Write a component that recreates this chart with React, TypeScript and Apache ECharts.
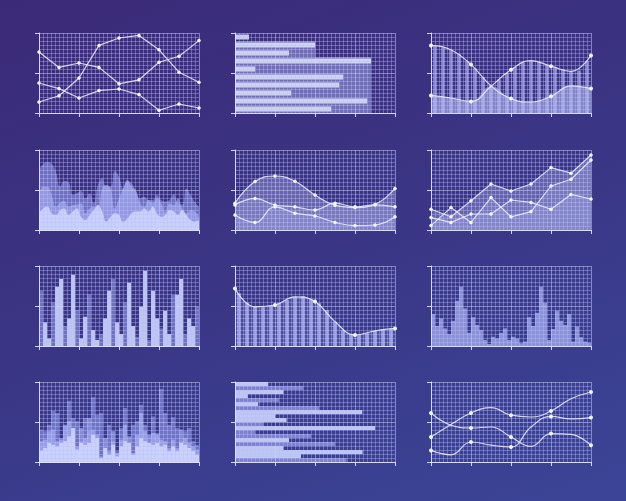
import React, { useEffect, useRef } from "react";
import * as echarts from "echarts";

// ---------- layout ----------
const COL_LEFT = [39, 235, 431];
const ROW_TOP = [33, 150, 266, 382];
const PANEL_W = 160;
const PANEL_H = 80;

// ---------- axis scale ----------
const X_MAX = 40;
const Y_MAX = 20;
const MAJOR_STEP = 10;
const MINOR_SPLIT = 10;

// ---------- categories ----------
const cat9 = ["0", "5", "10", "15", "20", "25", "30", "35", "40"];
const cat10 = ["r1", "r2", "r3", "r4", "r5", "r6", "r7", "r8", "r9", "r10"];
const cat20 = Array.from({ length: 20 }, (_, i) => `c${i + 1}`);
const cat39 = Array.from({ length: 39 }, (_, i) => `p${i + 1}`);
const cat40 = Array.from({ length: 40 }, (_, i) => `b${i + 1}`);

// ---------- data ----------
// panel 1: three polylines
const p1A = [2.75, 4.3, 8.75, 16.9, 18.75, 19.4, 15.8, 10.2, 7.7];
const p1B = [15.25, 11.4, 12.5, 11.4, 7.3, 8.3, 12.7, 14.2, 18.1];
const p1C = [7.5, 6.1, 3.75, 5.6, 6, 4.6, 0.7, 2.25, 1.25];

// panel 2: horizontal bars
const p2Bright = [3.5, 20, 13.5, 34, 5, 27, 26, 14, 33, 24];
const p2Shade = ["-", 20, 20, 34, 34, 34, 34, 34, 34, 34];

// panel 3: stripes + two curves
const p3Stripes = [16.8, 16.4, 15.8, 14.7, 13.0, 11.2, 9.0, 7.0, 8.4, 10.0, 11.5, 12.6, 13.1, 12.9, 12.1, 11.5, 11.0, 10.4, 10.6, 13.0];
const p3P = [16.9, 15.8, 12.1, 6.8, 3.6, 2.75, 4.2, 6.8, 6.1];
const p3Q = [4.4, 3.75, 2.9, 6.7, 10.8, 13.1, 11.7, 10.4, 14.4];
const p3Low = [4.4, 3.75, 2.9, 6.7, 3.6, 2.75, 4.2, 6.8, 6.1];

// panel 4: layered smooth areas
const p4Back = [15, 16.5, 17, 16.5, 14.6, 10.8, 12.25, 12, 8.75, 9.2, 9.75, 7.9, 9.2, 6.7, 11.25, 12.9, 10.8, 10.8, 14.75, 13.3, 10.4, 12.1, 11.7, 9.6, 7.9, 8.3, 7.5, 7.5, 8.75, 7.5, 7.1, 7.5, 8.9, 6.7, 6.4, 10.4, 8.75, 7, 5.8];
const p4Mid = [8.75, 10.8, 10.8, 8.75, 5.8, 6.9, 7.25, 5.8, 6.25, 6.4, 6.7, 4.2, 5.4, 5.8, 4.6, 10.4, 11.25, 10.4, 5.4, 7.9, 10.4, 12.5, 10.8, 10, 6.7, 5.8, 7.5, 6.7, 7.9, 6.7, 4.6, 6.7, 6.25, 7.9, 5.4, 4.2, 5, 4.6, 3.3];
const p4Front = [4.2, 5.4, 5.8, 4.2, 3.75, 5, 5.4, 3.75, 4.6, 5.4, 3.3, 2.5, 3.75, 5, 6.25, 4.6, 2.1, 3.3, 4.2, 3.75, 2.1, 2.9, 4.2, 4.6, 4.6, 5.4, 4.6, 5.8, 4.2, 3.3, 3.75, 5, 4.6, 3.75, 5, 3.75, 2.5, 2.1, 2.5];

// panel 5: smooth waves with fills
const p5A = [6.7, 12.1, 13.5, 12.2, 8.75, 6.2, 5.6, 6.4, 10.4];
const p5B = [6.25, 7.9, 6.25, 5.8, 5.0, 6.7, 5.8, 6.3, 5.8];
const p5C = [3.75, 1.9, 5.8, 4.2, 3.5, 1.9, 1.1, 1.25, 3.3];

// panel 6: jagged rising areas
const p6A = [5.2, 3.3, 7.3, 11.5, 9.75, 11.5, 15.6, 14.2, 18.75];
const p6B = [1.1, 5.6, 1.9, 8.1, 3.3, 4.6, 11, 12.7, 17.5];
const p6C = [3.1, 1.9, 4, 4, 7.5, 6.9, 5.2, 8.9, 7.75];

// panel 7: bars, two tones
const p7Shade = [13.8, "-", "-", 10.9, "-", "-", 5, "-", "-", 9, "-", "-", 12.9, "-", "-", 3, "-", "-", 16.75, "-", "-", 10.9, "-", "-", 2.3, "-", "-", 1.5, "-", "-", 4.4, "-", "-", 12.8, "-", "-", 3, "-", "-", 9.8];
const p7Bright = ["-", 5.9, 1.9, "-", 14.8, 16.75, "-", 6.9, 17.8, "-", 1.9, 7.3, "-", 4, 1.5, "-", 6.9, 13.8, "-", 5.9, 3, "-", 15.8, 5, "-", 9.8, 18.8, "-", 13.8, 6.9, "-", 8.8, 3, "-", 12.8, 16.75, "-", 6.9, 5, "-"];

// panel 8: stripes + smooth curve
const p8Stripes = [13.2, 10.8, 9.8, 9.7, 10.1, 10.7, 11.5, 12.3, 12.5, 11.7, 10.7, 9, 6.1, 4, 3, 2.75, 3.2, 3.8, 4.25, 4.4];
const p8Line = [14.4, 9.8, 10.25, 12.3, 11.1, 6.1, 2.75, 3.8, 4.4];

// panel 9: histogram
const p9Bars = [8, 5, 6.9, 4.4, 3, 6.3, 11.3, 14.8, 9.4, 3.3, 7.2, 5.25, 4, 1.5, 0.5, 2.3, 1.9, 3.3, 4.4, 1.5, 2.3, 1.9, 0.7, 1.1, 7.2, 5, 8.3, 14.8, 10.8, 1.5, 4.25, 8.8, 6.3, 5.25, 8, 1.1, 4.9, 2.2, 1.1, 0.8];

// panel 10: layered bars
const p10Back = [8.1, 7.7, 9.3, 12.8, 12.25, 6, 8.9, 15.3, 11, 10.2, 5.2, 11, 7.7, 16.2, 11.8, 12.25, 2.25, 9.3, 5.2, 2.7, 8.5, 13.5, 2.25, 9.3, 10.2, 14.3, 9.3, 3.9, 11.4, 7.25, 18.3, 12.25, 9.3, 11.2, 8.5, 5.2, 7.7, 8.5, 5.2, 4.3];
const p10Mid = [5.2, 5.6, 7.7, 8.1, 5.2, 5.6, 9.3, 10.2, 7.25, 3.9, 8.5, 6, 11, 8.1, 6.8, 1.4, 6, 2.7, 7.7, 2.25, 5.6, 9.3, 6.4, 2.25, 6.8, 12.25, 7.7, 6.8, 7.25, 6.8, 5.6, 5.2, 3.5, 5.6, 3.5, 8.1, 6, 4.75, 3.9, 3.1];
const p10Front = [2.8, 3.5, 4.75, 4.3, 3.9, 4.75, 5.2, 6.4, 8.5, 3.1, 4.75, 4.3, 4.75, 6.8, 6, 1, 3.5, 1.8, 4.3, 1.4, 3.9, 5.2, 4.75, 1.8, 3.9, 6, 5.2, 4.75, 4.3, 4.75, 3.9, 4.3, 2.7, 3.9, 2.7, 4.75, 4.3, 3.5, 2.7, 1.8];

// panel 11: horizontal bars, two tones
const p11Bright = [8.3, "-", 12.1, 3.2, "-", 5.8, "-", 31.8, 10, 12.9, "-", 35, "-", "-", 13.5, "-", 12.1, 31.9, 16.5, "-"];
const p11Shade = ["-", 17.1, "-", "-", 11, "-", 21, "-", "-", "-", 7.1, "-", 5, 19, "-", 25, "-", "-", "-", 27.9];

// panel 12: smooth curves
const p12A = [12.25, 9.2, 8.5, 8.75, 6.25, 3.9, 7.1, 6.9, 4.2];
const p12B = [6.25, 9.4, 12.25, 13.6, 11.7, 11.25, 12.75, 15.8, 17.5];
const p12C = [2.9, 1.8, 5, 4.2, 3.75, 8.75, 11.4, 10.8, 11.1];

// ---------- colours ----------
const MINOR_GRID = "rgba(185,190,255,0.38)";
const MAJOR_GRID = "rgba(205,210,255,0.5)";
const AXIS = "rgba(225,228,255,0.9)";
const LINE = "rgba(236,238,255,0.85)";
const DOT = "#f4f5ff";
const BRIGHT = "rgba(202,210,250,0.92)";
const SHADE = "rgba(150,156,235,0.58)";

function buildOption() {
  const grid: any[] = [];
  const xAxis: any[] = [];
  const yAxis: any[] = [];
  const series: any[] = [];

  const common = (gi: number, max: number) => ({
    type: "value",
    gridIndex: gi,
    min: 0,
    max,
    interval: MAJOR_STEP,
    z: 3,
    axisLabel: { show: false },
    axisLine: { show: true, lineStyle: { color: AXIS, width: 1 } },
    axisTick: { show: true, length: 4, lineStyle: { color: AXIS } },
    splitLine: { show: true, lineStyle: { color: MAJOR_GRID, width: 1 } },
    minorTick: { show: false, splitNumber: MINOR_SPLIT },
    minorSplitLine: { show: true, lineStyle: { color: MINOR_GRID, width: 1 } },
  });

  const addPanel = (col: number, row: number) => {
    const gi = grid.length;
    grid.push({ left: COL_LEFT[col], top: ROW_TOP[row], width: PANEL_W, height: PANEL_H });
    xAxis.push({ ...common(gi, X_MAX), position: "bottom" });
    const xi = xAxis.length - 1;
    yAxis.push({ ...common(gi, Y_MAX), position: "left" });
    const yi = yAxis.length - 1;
    return { gi, xi, yi };
  };
  const hiddenX = (gi: number, data: string[], boundaryGap: boolean) => {
    xAxis.push({ type: "category", gridIndex: gi, show: false, position: "top", data, boundaryGap });
    return xAxis.length - 1;
  };
  const hiddenY = (gi: number, data: string[]) => {
    yAxis.push({ type: "category", gridIndex: gi, show: false, position: "right", data, inverse: true, boundaryGap: true });
    return yAxis.length - 1;
  };

  const line = (xi: number, yi: number, data: any[], o: any = {}) => ({
    type: "line",
    xAxisIndex: xi,
    yAxisIndex: yi,
    data,
    smooth: o.smooth ?? false,
    symbol: "circle",
    showSymbol: o.symbols ?? true,
    symbolSize: o.everyOther ? (_v: any, p: any) => (p.dataIndex % 2 === 0 ? 4 : 0) : o.symbolSize ?? 3.5,
    lineStyle: { color: o.lineColor ?? LINE, width: o.width ?? 1.2 },
    itemStyle: { color: DOT },
    areaStyle: o.area ? { color: o.area, opacity: 1 } : undefined,
    z: o.z ?? 4,
    silent: true,
  });
  const bar = (xi: number, yi: number, data: any[], color: string, o: any = {}) => ({
    type: "bar",
    xAxisIndex: xi,
    yAxisIndex: yi,
    data,
    barWidth: o.barWidth,
    barGap: "-100%",
    barCategoryGap: o.gap ?? "0%",
    itemStyle: { color },
    z: o.z ?? 2,
    silent: true,
  });

  // 1
  {
    const { gi, yi } = addPanel(0, 0);
    const x = hiddenX(gi, cat9, false);
    series.push(line(x, yi, p1A), line(x, yi, p1B), line(x, yi, p1C));
  }
  // 2
  {
    const { gi, xi } = addPanel(1, 0);
    const yS = hiddenY(gi, cat10);
    const yB = hiddenY(gi, cat10);
    series.push(bar(xi, yS, p2Shade, "rgba(180,186,248,0.45)", { gap: "0%", z: 1 }));
    series.push(bar(xi, yB, p2Bright, "rgba(215,220,252,0.92)", { barWidth: 5, z: 2 }));
  }
  // 3
  {
    const { gi, yi } = addPanel(2, 0);
    const xs = hiddenX(gi, cat20, true);
    const xl = hiddenX(gi, cat9, false);
    series.push(bar(xs, yi, p3Stripes, "rgba(185,192,252,0.55)", { barWidth: 4 }));
    series.push(line(xl, yi, p3Low, { smooth: 0.45, symbols: false, width: 0, area: "rgba(200,208,255,0.5)", z: 2 }));
    series.push(line(xl, yi, p3P, { smooth: 0.45, everyOther: true }));
    series.push(line(xl, yi, p3Q, { smooth: 0.45, everyOther: true }));
  }
  // 4
  {
    const { gi, yi } = addPanel(0, 1);
    const x = hiddenX(gi, cat39, false);
    series.push(line(x, yi, p4Back, { smooth: 0.5, symbols: false, width: 0, area: "rgba(145,150,230,0.62)", z: 2 }));
    series.push(line(x, yi, p4Mid, { smooth: 0.5, symbols: false, width: 0, area: "rgba(170,178,244,0.62)", z: 2 }));
    series.push(line(x, yi, p4Front, { smooth: 0.5, symbols: false, width: 0, area: "rgba(210,217,253,0.85)", z: 2 }));
  }
  // 5
  {
    const { gi, yi } = addPanel(1, 1);
    const x = hiddenX(gi, cat9, false);
    series.push(line(x, yi, p5A, { smooth: 0.45, area: "rgba(195,202,255,0.32)" }));
    series.push(line(x, yi, p5B, { smooth: 0.45, area: "rgba(195,202,255,0.2)" }));
    series.push(line(x, yi, p5C, { smooth: 0.45, area: "rgba(195,202,255,0.16)" }));
  }
  // 6
  {
    const { gi, yi } = addPanel(2, 1);
    const x = hiddenX(gi, cat9, false);
    series.push(line(x, yi, p6A, { area: "rgba(195,202,255,0.3)" }));
    series.push(line(x, yi, p6B, { area: "rgba(195,202,255,0.22)" }));
    series.push(line(x, yi, p6C, { area: "rgba(195,202,255,0.16)" }));
  }
  // 7
  {
    const { gi, yi } = addPanel(0, 2);
    const x = hiddenX(gi, cat40, true);
    series.push(bar(x, yi, p7Shade, SHADE));
    series.push(bar(x, yi, p7Bright, BRIGHT));
  }
  // 8
  {
    const { gi, yi } = addPanel(1, 2);
    const xs = hiddenX(gi, cat20, true);
    const xl = hiddenX(gi, cat9, false);
    series.push(bar(xs, yi, p8Stripes, "rgba(185,192,252,0.65)", { barWidth: 4 }));
    series.push(line(xl, yi, p8Line, { smooth: 0.45, everyOther: true, area: "rgba(185,192,252,0.15)" }));
  }
  // 9
  {
    const { gi, yi } = addPanel(2, 2);
    const x = hiddenX(gi, cat40, true);
    series.push(bar(x, yi, p9Bars, "rgba(175,182,247,0.7)"));
  }
  // 10
  {
    const { gi, yi } = addPanel(0, 3);
    const x = hiddenX(gi, cat40, true);
    series.push(bar(x, yi, p10Back, "rgba(145,150,230,0.62)"));
    series.push(bar(x, yi, p10Mid, "rgba(170,178,244,0.68)"));
    series.push(bar(x, yi, p10Front, "rgba(210,217,253,0.88)"));
  }
  // 11
  {
    const { gi, xi } = addPanel(1, 3);
    const y = hiddenY(gi, cat20);
    series.push(bar(xi, y, p11Shade, "rgba(168,175,244,0.62)"));
    series.push(bar(xi, y, p11Bright, BRIGHT));
  }
  // 12
  {
    const { gi, yi } = addPanel(2, 3);
    const x = hiddenX(gi, cat9, false);
    series.push(line(x, yi, p12A, { smooth: 0.45, everyOther: true }));
    series.push(line(x, yi, p12B, { smooth: 0.45, everyOther: true }));
    series.push(line(x, yi, p12C, { smooth: 0.45, everyOther: true }));
  }

  return { animation: false, grid, xAxis, yAxis, series };
}

export default function App() {
  const ref = useRef<HTMLDivElement>(null);
  useEffect(() => {
    if (!ref.current) return;
    const chart = echarts.init(ref.current, undefined, { renderer: "svg" });
    chart.setOption(buildOption() as any);
    return () => chart.dispose();
  }, []);
  return (
    <div
      ref={ref}
      style={{
        position: "fixed",
        left: 0,
        top: 0,
        width: 626,
        height: 501,
        background: "linear-gradient(160deg, #3b2a77 0%, #3a3787 55%, #3b4597 100%)",
      }}
    />
  );
}
